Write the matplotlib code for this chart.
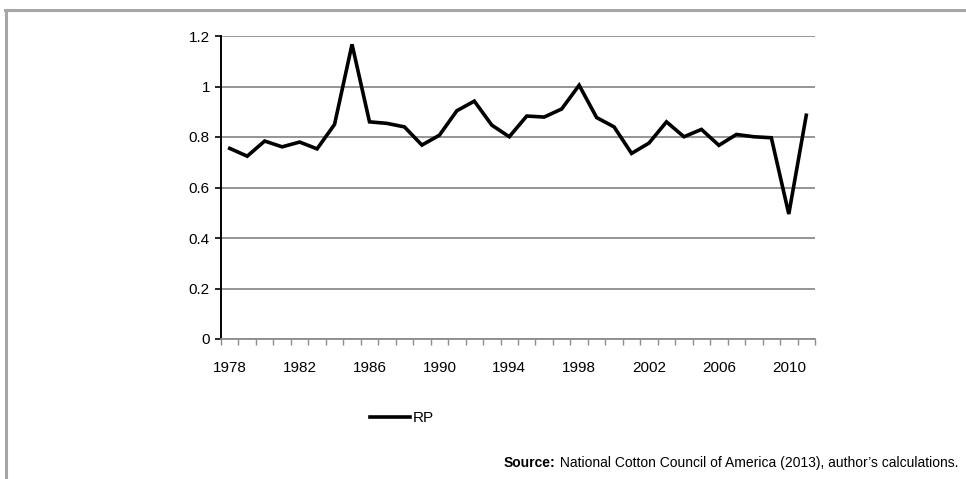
import matplotlib
matplotlib.use("Agg")
import matplotlib.pyplot as plt
from matplotlib import font_manager
from matplotlib.lines import Line2D
from matplotlib.ticker import FixedLocator

# 字体：尽量用窄体，和原图的 Arial Narrow 接近
names = {f.name for f in font_manager.fontManager.ttflist}
fam = "Liberation Sans Narrow" if "Liberation Sans Narrow" in names else "Liberation Sans"
plt.rcParams['font.family'] = [fam, 'DejaVu Sans']

years = list(range(1978, 2012))
rp = [0.755, 0.724, 0.784, 0.761, 0.780, 0.753, 0.850, 1.167, 0.860, 0.854,
      0.840, 0.768, 0.807, 0.904, 0.942, 0.847, 0.801, 0.883, 0.879, 0.911,
      1.005, 0.877, 0.840, 0.735, 0.776, 0.860, 0.801, 0.830, 0.767, 0.810,
      0.801, 0.797, 0.495, 0.886]
label_years = list(range(1978, 2011, 4))
y_ticks = [0, 0.2, 0.4, 0.6, 0.8, 1, 1.2]
y_labels = ["0", "0.2", "0.4", "0.6", "0.8", "1", "1.2"]
source_bold = "Source:"
source_rest = " National Cotton Council of America (2013), author\u2019s calculations."

W, H = 966, 479
fig = plt.figure(figsize=(W / 100, H / 100), dpi=100)
ax = fig.add_axes([221 / W, 1 - 339 / H, (815 - 221) / W, (339 - 36) / H])

ax.plot(years, rp, color='black', lw=2.6, solid_joinstyle='miter', label='RP')

ax.set_xlim(years[0] - 0.5, years[-1] + 0.5)
ax.set_ylim(0, 1.2)
ax.set_yticks(y_ticks)
ax.set_yticklabels(y_labels)
ax.set_xticks(label_years)
ax.set_xticklabels([str(y) for y in label_years])
ax.xaxis.set_minor_locator(FixedLocator([y - 0.5 for y in years] + [years[-1] + 0.5]))

ax.grid(axis='y', color='#8c8c8c', lw=1.3)
ax.set_axisbelow(True)
for s in ['top', 'right']:
    ax.spines[s].set_visible(False)
ax.spines['left'].set_color('black')
ax.spines['left'].set_linewidth(1.4)
ax.spines['bottom'].set_color('#8c8c8c')
ax.spines['bottom'].set_linewidth(1.3)

ax.tick_params(axis='y', which='major', length=4, width=1.2, color='black',
               labelsize=11, pad=4)
ax.tick_params(axis='x', which='major', length=0, labelsize=11, pad=16)
ax.tick_params(axis='x', which='minor', length=4, width=1, color='#8c8c8c')

leg = fig.legend(loc='center', bbox_to_anchor=(402 / W, 1 - 418 / H),
                 frameon=False, fontsize=11, handlelength=2.6,
                 handletextpad=0.15)

# 外框
fig.add_artist(Line2D([5 / W, 1], [1 - 9.5 / H, 1 - 9.5 / H], color='#a6a6a6',
                      lw=2.2, transform=fig.transFigure))
fig.add_artist(Line2D([6 / W, 6 / W], [0, 1 - 9.5 / H], color='#a6a6a6',
                      lw=2.2, transform=fig.transFigure))

# 来源说明
t = fig.text(958 / W, 1 - 463 / H, source_rest, ha='right', va='center', fontsize=10)
r = fig.canvas.get_renderer()
bb = t.get_window_extent(renderer=r)
fig.text(bb.x0 / W, 1 - 463 / H, source_bold, ha='right', va='center',
         fontsize=10, fontweight='bold')

fig.savefig("out.png", dpi=100)
